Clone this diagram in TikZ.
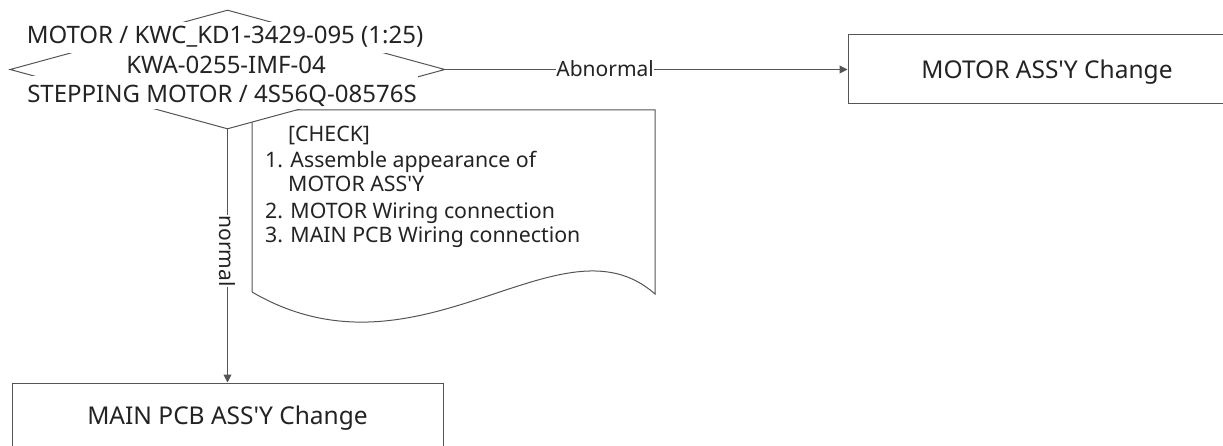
\documentclass[tikz,border=0pt]{standalone}
\usepackage{fontspec}
\setmainfont{Noto Sans}
\usetikzlibrary{shapes.geometric,arrows.meta}
\definecolor{linegray}{RGB}{85,85,85}
\definecolor{txtgray}{RGB}{35,35,35}
\begin{document}
\begin{tikzpicture}[x=1pt,y=-1pt,
  conn/.style={draw=linegray, line width=1pt, -{Triangle[length=8pt,width=8pt]}},
  outline/.style={draw=linegray, line width=1pt},
  boxnode/.style={outline, rectangle, inner sep=0pt, text=txtgray, font=\fontsize{24.5}{28}\selectfont, text height=17.5pt, text depth=0pt},
  decline/.style={fill=white, inner sep=1.5pt, text=txtgray, font=\fontsize{24}{28}\selectfont, anchor=base},
  chkline/.style={inner sep=0pt, text=txtgray, font=\fontsize{21.3}{25}\selectfont, anchor=base west},
  lab/.style={fill=white, inner sep=0.5pt, text=txtgray, font=\fontsize{21}{25}\selectfont}
]
\useasboundingbox (0,0) rectangle (1223,446);
\clip (0,0) rectangle (1223,446);

% document shape (check list)
\coordinate (docTL) at (252,110);
\coordinate (docTR) at (655,110);
\coordinate (docBR) at (655,294);
\coordinate (docBL) at (252,292);
\draw[outline] (docBL) -- (docTL) -- (docTR) -- (docBR)
  .. controls (560,210) and (420,390) .. (docBL);

% decision
\node[outline, diamond, fill=white, minimum width=435pt, minimum height=119pt, inner sep=0pt] (dec) at (227.5,69.5) {};
\node[decline, text height=25pt, text depth=4.5pt] (d3) at (222,103) {STEPPING MOTOR / 4S56Q-08576S};
\node[decline, text height=20pt, text depth=7.5pt] (d1) at (225,44) {MOTOR / KWC\_KD1-3429-095 (1:25)};
\node[decline] (d2) at (226,74) {KWA-0255-IMF-04};

% check text
\node[chkline] (c0) at (288,142) {[CHECK]};
\node[chkline] (c1) at (265,168) {1. Assemble appearance of};
\node[chkline] (c2) at (288,192) {MOTOR ASS\textquotesingle Y};
\node[chkline] (c3) at (265,219) {2. MOTOR Wiring connection};
\node[chkline] (c4) at (265,243) {3. MAIN PCB Wiring connection};

% result boxes
\node[boxnode, minimum width=398pt, minimum height=69pt] (motor) at (1047,69.5) {MOTOR ASS\textquotesingle Y Change};
\node[boxnode, minimum width=431pt, minimum height=65pt] (pcb) at (227.5,415.5) {MAIN PCB ASS\textquotesingle Y Change};

% connectors
\draw[conn] (dec.east) -- node[lab, pos=0.397, text height=15pt, text depth=0pt] {Abnormal} (motor.west);
\draw[conn] (dec.south) -- node[lab, rotate=-90, pos=0.48] {normal} (pcb.north);
\end{tikzpicture}
\end{document}
